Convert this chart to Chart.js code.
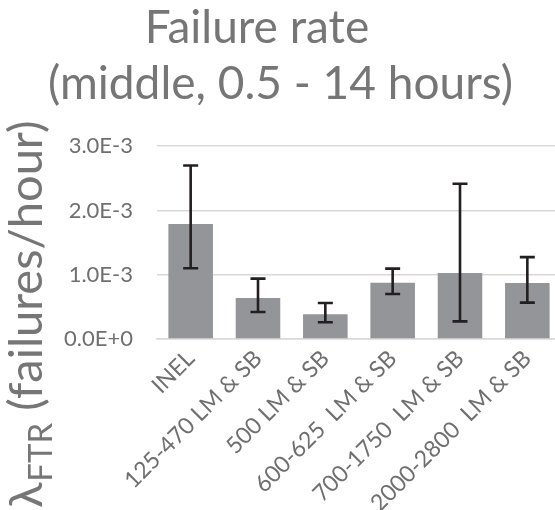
<!DOCTYPE html>
<html>
<head>
<meta charset="utf-8">
<script src="https://cdn.jsdelivr.net/npm/chart.js@4/dist/chart.umd.min.js"></script>
<style>
  html, body { margin: 0; padding: 0; background: #fff; overflow: hidden; }
  #wrap { width: 561px; height: 510px; position: relative; }
</style>
</head>
<body>
<div id="wrap"><canvas id="c"></canvas></div>
<script>
// Failure-to-run rate per data source, with uncertainty bounds
const categories = ['INEL', '125-470 LM & SB', '500 LM & SB', '600-625  LM & SB', '700-1750  LM & SB', '2000-2800  LM & SB'];
const rate  = [1.79e-3, 0.64e-3, 0.385e-3, 0.877e-3, 1.026e-3, 0.871e-3];
const upper = [2.70e-3, 0.94e-3, 0.56e-3, 1.095e-3, 2.417e-3, 1.275e-3];
const lower = [1.10e-3, 0.42e-3, 0.26e-3, 0.70e-3, 0.275e-3, 0.566e-3];
const yTicks = [0, 1e-3, 2e-3, 3e-3];

const FONT = 'Lato, "Open Sans", sans-serif';
const TEXT_GREY = '#767676';
const TICK_GREY = '#6f6f6f';

function sci(v) {
  if (v === 0) return '0.0E+0';
  const e = Math.floor(Math.log10(Math.abs(v)) + 1e-9);
  const m = v / Math.pow(10, e);
  return m.toFixed(1) + 'E' + (e < 0 ? '-' : '+') + Math.abs(e);
}

// whiskers from lower to upper bound, centred on each bar
const errorBars = {
  id: 'errorBars',
  afterDatasetsDraw(chart) {
    const ctx = chart.ctx;
    const y = chart.scales.y;
    const meta = chart.getDatasetMeta(0);
    ctx.save();
    ctx.strokeStyle = '#231f20';
    ctx.lineWidth = 2.6;
    ctx.lineCap = 'butt';
    meta.data.forEach((bar, i) => {
      const x = bar.x;
      const yt = y.getPixelForValue(upper[i]);
      const yb = y.getPixelForValue(lower[i]);
      const hw = 7.5;
      ctx.beginPath();
      ctx.moveTo(x, yt); ctx.lineTo(x, yb);
      ctx.moveTo(x - hw, yt); ctx.lineTo(x + hw, yt);
      ctx.moveTo(x - hw, yb); ctx.lineTo(x + hw, yb);
      ctx.stroke();
    });
    ctx.restore();
  }
};

// rotated axis title with a subscript
const yTitle = {
  id: 'yTitle',
  afterDraw(chart) {
    const ctx = chart.ctx;
    ctx.save();
    ctx.translate(42, 508);
    ctx.rotate(-Math.PI / 2);
    ctx.fillStyle = TEXT_GREY;
    ctx.textBaseline = 'alphabetic';
    ctx.textAlign = 'left';
    ctx.font = '47px ' + FONT;
    ctx.fillText('\u03bb', 0, 0);
    let x = ctx.measureText('\u03bb').width + 1;
    ctx.font = '33px ' + FONT;
    ctx.fillText('FTR', x, 10);
    x += ctx.measureText('FTR').width;
    ctx.font = '47px ' + FONT;
    ctx.fillText(' (failures/hour)', x, 0);
    ctx.restore();
  }
};

new Chart(document.getElementById('c'), {
  type: 'bar',
  data: {
    labels: categories,
    datasets: [{
      data: rate,
      backgroundColor: '#949598',
      borderWidth: 0,
      categoryPercentage: 1,
      barPercentage: 0.662
    }]
  },
  options: {
    responsive: true,
    maintainAspectRatio: false,
    animation: false,
    layout: { padding: 0 },
    plugins: {
      legend: { display: false },
      tooltip: { enabled: false },
      title: {
        display: true,
        text: ['Failure rate    ', '(middle, 0.5 - 14 hours)'],
        color: TEXT_GREY,
        font: { family: FONT, size: 46, weight: 'normal', lineHeight: 1.22 },
        padding: { top: 0, bottom: 34 }
      }
    },
    scales: {
      y: {
        min: 0,
        max: 3e-3,
        afterBuildTicks(scale) { scale.ticks = yTicks.map(v => ({ value: v })); },
        afterFit(scale) { scale.width = 157; },
        ticks: {
          color: TICK_GREY,
          font: { family: FONT, size: 22 },
          padding: 24,
          callback: v => sci(v)
        },
        grid: { color: '#d9d9d9', lineWidth: 1.5, drawTicks: false },
        border: { display: false }
      },
      x: {
        afterFit(scale) { scale.height = 171; },
        ticks: {
          color: TICK_GREY,
          font: { family: FONT, size: 23 },
          minRotation: 45,
          maxRotation: 45,
          padding: 6,
          autoSkip: false
        },
        grid: { display: false, drawTicks: false },
        border: { display: true, color: '#d9d9d9', width: 1.5 }
      }
    }
  },
  plugins: [errorBars, yTitle]
});
</script>
</body>
</html>
